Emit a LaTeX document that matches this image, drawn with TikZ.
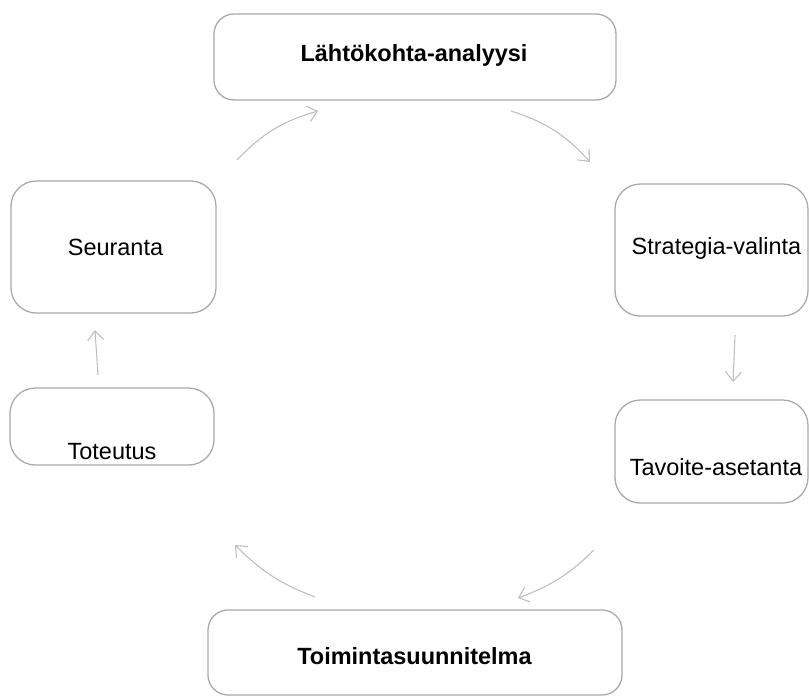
\documentclass[tikz,border=0pt]{standalone}
\usepackage{fontspec}
\setmainfont{Liberation Sans}
\usetikzlibrary{arrows.meta}
\definecolor{boxgray}{HTML}{A8A8A8}
\definecolor{arrgray}{HTML}{BDBDBD}
\tikzset{
  box/.style={draw=boxgray, line width=0.95pt, rounded corners=15pt, inner sep=0pt},
  sidebox/.style={box, rounded corners=19pt},
  label/.style={inner sep=0pt, font=\fontsize{17.6}{20}\selectfont},
  boldlabel/.style={label, font=\fontsize{17.6}{20}\selectfont\bfseries},
  flow/.style={draw=arrgray, line width=0.8pt, -{Straight Barb[length=7pt,width=12pt]}}
}
\begin{document}
\begin{tikzpicture}[x=0.75pt,y=-0.75pt]
\useasboundingbox (0,0) rectangle (809,696);
% boxes
\node[box, minimum width=301.5pt, minimum height=64.5pt] (lahto) at (415,57) {};
\node[sidebox, minimum width=144.75pt, minimum height=99pt] (strat) at (711.5,250) {};
\node[sidebox, minimum width=144.75pt, minimum height=77.25pt] (tavo) at (711.5,451.5) {};
\node[sidebox, minimum width=153.75pt, minimum height=99pt] (seur) at (113.5,247) {};
\node[sidebox, minimum width=153pt, minimum height=57.75pt] (tote) at (112,426.5) {};
\node[box, minimum width=310.5pt, minimum height=63.75pt] (toim) at (415,652.5) {};
% texts
\node[boldlabel] (tlahto) at (414,55) {Lähtökohta-analyysi};
\node[label] (tstrat) at (716.5,248) {Strategia-valinta};
\node[label] (ttavo) at (716,467) {Tavoite-asetanta};
\node[label] (tseur) at (115.5,247) {Seuranta};
\node[label] (ttote) at (112,452) {Toteutus};
\node[boldlabel] (ttoim) at (414.5,656) {Toimintasuunnitelma};
% connector ends
\coordinate (a1) at (237,160); \coordinate (a2) at (318,111);
\coordinate (b1) at (511,111); \coordinate (b2) at (590,162);
\coordinate (c1) at (735,335); \coordinate (c2) at (733,382);
\coordinate (d1) at (594,550); \coordinate (d2) at (518,598);
\coordinate (e1) at (315,597); \coordinate (e2) at (235,545);
\coordinate (f1) at (98,375); \coordinate (f2) at (95,330);
% connectors
\draw[flow] (a1) to[bend left=15] (a2);
\draw[flow] (b1) to[bend left=15] (b2);
\draw[flow] (c1) -- (c2);
\draw[flow] (d1) to[bend left=12] (d2);
\draw[flow] (e1) to[bend left=12] (e2);
\draw[flow] (f1) -- (f2);
\end{tikzpicture}
\end{document}
